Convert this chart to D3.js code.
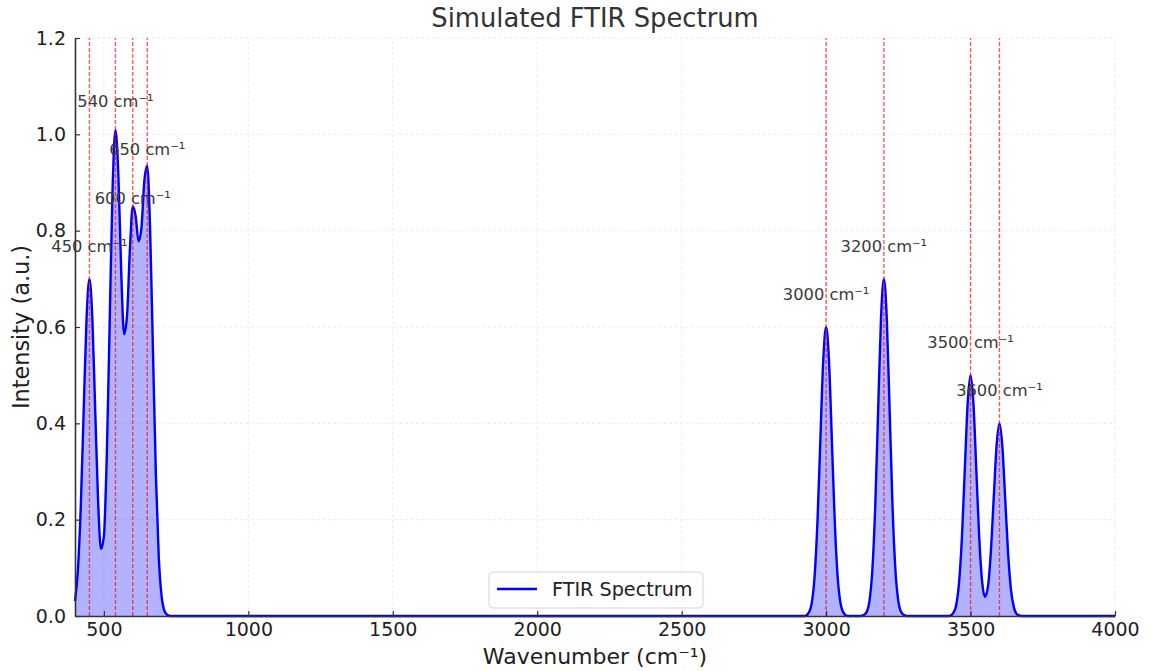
<!DOCTYPE html>
<html>
<head>
<meta charset="utf-8">
<script src="https://cdn.jsdelivr.net/npm/d3@7"></script>
<style>
  html, body { margin: 0; padding: 0; background: #fff; }
  svg { display: block; font-family: "DejaVu Sans", sans-serif; }
</style>
</head>
<body>
<svg id="chart" width="1152" height="671"></svg>
<script>
// Spectrum samples (wavenumber in cm⁻¹, intensity in a.u.)
const wavenumbers = [
  400, 410, 420, 430, 440, 450, 460, 470, 480, 490, 500, 510, 520, 530, 540, 550,
  560, 570, 580, 590, 600, 610, 620, 630, 640, 650, 660, 670, 680, 690, 700, 710,
  720, 730,
  2920, 2930, 2940, 2950, 2960, 2970, 2980, 2990, 3000, 3010, 3020, 3030, 3040,
  3050, 3060, 3070, 3080,
  3120, 3130, 3140, 3150, 3160, 3170, 3180, 3190, 3200, 3210, 3220, 3230, 3240,
  3250, 3260, 3270, 3280,
  3420, 3430, 3440, 3450, 3460, 3470, 3480, 3490, 3500, 3510, 3520, 3530, 3540,
  3550, 3560, 3570, 3580, 3590, 3600, 3610, 3620, 3630, 3640, 3650, 3660, 3670,
  3680, 4000
];
const intensities = [
  0.031, 0.095, 0.227, 0.425, 0.618, 0.700, 0.618, 0.427, 0.238, 0.139, 0.166, 0.332, 0.608, 0.885, 1.009, 0.918,
  0.715, 0.585, 0.623, 0.760, 0.851, 0.830, 0.778, 0.806, 0.903, 0.935, 0.803, 0.548, 0.293, 0.122, 0.040, 0.010,
  0.002, 0.000,
  0.000, 0.001, 0.007, 0.026, 0.081, 0.195, 0.364, 0.530, 0.600, 0.530, 0.364, 0.195, 0.081,
  0.026, 0.007, 0.001, 0.000,
  0.000, 0.002, 0.008, 0.031, 0.095, 0.227, 0.425, 0.618, 0.700, 0.618, 0.425, 0.227, 0.095,
  0.031, 0.008, 0.002, 0.000,
  0.000, 0.001, 0.006, 0.022, 0.068, 0.162, 0.303, 0.441, 0.500, 0.441, 0.303, 0.163, 0.072,
  0.040, 0.060, 0.131, 0.243, 0.353, 0.400, 0.353, 0.243, 0.130, 0.054, 0.018, 0.004, 0.001,
  0.000, 0.000
];

// Annotated absorption peaks
const peakPositions = [450, 540, 600, 650, 3000, 3200, 3500, 3600];
const peakIntensities = [0.7, 1.0, 0.8, 0.9, 0.6, 0.7, 0.5, 0.4];

// Axis ticks
const xTicks = [500, 1000, 1500, 2000, 2500, 3000, 3500, 4000];
const yTicks = [0.0, 0.2, 0.4, 0.6, 0.8, 1.0, 1.2];

const svg = d3.select("#chart");
const margin = { left: 75, right: 37, top: 38, bottom: 55 };
const W = 1152, H = 671;

const x = d3.scaleLinear().domain([400, 4000]).range([margin.left, W - margin.right]);
const y = d3.scaleLinear().domain([0, 1.2]).range([H - margin.bottom, margin.top]);

const spectrum = wavenumbers.map((w, i) => ({ w, v: intensities[i] }));

// Grid
const grid = svg.append("g").attr("stroke", "#e6e6e6").attr("stroke-width", 0.8)
  .attr("stroke-dasharray", "3,2.5");
grid.selectAll("line.gx").data(xTicks).join("line").attr("class", "gx")
  .attr("x1", d => x(d)).attr("x2", d => x(d))
  .attr("y1", y(0)).attr("y2", y(1.2));
grid.selectAll("line.gy").data(yTicks).join("line").attr("class", "gy")
  .attr("x1", x(400)).attr("x2", x(4000))
  .attr("y1", d => y(d)).attr("y2", d => y(d));

// Filled area under the spectrum
const curve = d3.curveMonotoneX;
svg.append("path").datum(spectrum)
  .attr("fill", "rgba(0,0,255,0.3)")
  .attr("d", d3.area().x(d => x(d.w)).y0(y(0)).y1(d => y(d.v)).curve(curve));

// Spectrum line
svg.append("path").datum(spectrum)
  .attr("fill", "none").attr("stroke", "#0000ff").attr("stroke-width", 2.4)
  .attr("stroke-linejoin", "round")
  .attr("d", d3.line().x(d => x(d.w)).y(d => y(d.v)).curve(curve));

// Peak markers
svg.append("g").selectAll("line.peak").data(peakPositions).join("line")
  .attr("class", "peak")
  .attr("x1", d => x(d)).attr("x2", d => x(d))
  .attr("y1", y(0)).attr("y2", y(1.2))
  .attr("stroke", "#ff0000").attr("stroke-opacity", 0.65).attr("stroke-width", 1.4)
  .attr("stroke-dasharray", "4,2");

// Peak labels
svg.append("g").selectAll("text").data(peakPositions).join("text")
  .attr("x", d => x(d))
  .attr("y", (d, i) => y(peakIntensities[i] + 0.05) - 3)
  .attr("text-anchor", "middle")
  .attr("font-size", 16.3).attr("fill", "#3a3a3a")
  .text(d => `${d} cm⁻¹`);

// Axes
const xAxis = d3.axisBottom(x).tickValues(xTicks).tickSizeInner(-5).tickSizeOuter(0)
  .tickPadding(7).tickFormat(d3.format("d"));
const gx = svg.append("g").attr("transform", `translate(0,${y(0)})`).call(xAxis);
const yAxis = d3.axisLeft(y).tickValues(yTicks).tickSizeInner(-5).tickSizeOuter(0)
  .tickPadding(9).tickFormat(d3.format(".1f"));
const gy = svg.append("g").attr("transform", `translate(${x(400)},0)`).call(yAxis);
[gx, gy].forEach(g => {
  g.select(".domain").attr("stroke", "#333").attr("stroke-width", 1.6);
  g.selectAll(".tick line").attr("stroke", "#333").attr("stroke-width", 1.2);
  g.selectAll(".tick text").attr("font-size", 19).attr("fill", "#222")
    .attr("font-family", "DejaVu Sans, sans-serif");
});
gx.selectAll(".tick text").attr("dy", "0.71em");

// Titles
svg.append("text").attr("x", (x(400) + x(4000)) / 2).attr("y", 27)
  .attr("text-anchor", "middle").attr("font-size", 25.8).attr("fill", "#333")
  .text("Simulated FTIR Spectrum");
svg.append("text").attr("x", (x(400) + x(4000)) / 2).attr("y", 664)
  .attr("text-anchor", "middle").attr("font-size", 22).attr("fill", "#222")
  .text("Wavenumber (cm⁻¹)");
svg.append("text")
  .attr("transform", `translate(29,${(y(0) + y(1.2)) / 2}) rotate(-90)`)
  .attr("text-anchor", "middle").attr("font-size", 22.4).attr("fill", "#222")
  .text("Intensity (a.u.)");

// Legend
const lg = svg.append("g").attr("transform", "translate(489,572)");
lg.append("rect").attr("width", 214).attr("height", 36).attr("rx", 4)
  .attr("fill", "rgba(255,255,255,0.8)").attr("stroke", "#d5d5d5").attr("stroke-width", 1);
lg.append("line").attr("x1", 8).attr("x2", 48).attr("y1", 17).attr("y2", 17)
  .attr("stroke", "#0000ff").attr("stroke-width", 2.4);
lg.append("text").attr("x", 63).attr("y", 24).attr("font-size", 19.2).attr("fill", "#222")
  .text("FTIR Spectrum");
</script>
</body>
</html>
